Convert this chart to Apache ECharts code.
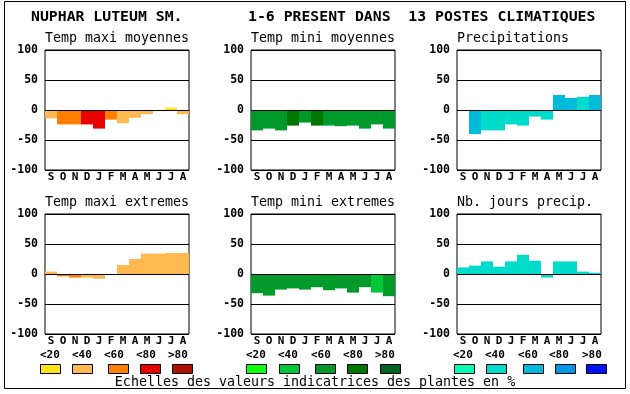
<!DOCTYPE html>
<html><head><meta charset="utf-8">
<script src="https://cdn.jsdelivr.net/npm/echarts@6/dist/echarts.min.js"></script>
<style>html,body{margin:0;padding:0;background:#fff}#c{width:630px;height:394px}</style>
</head><body><div id="c"></div>
<script>
const months = ['S','O','N','D','J','F','M','A','M','J','J','A'];
const yTicks = [-100, -50, 0, 50, 100];
const legendLabels = ['<20','<40','<60','<80','>80'];

const redPalette   = ['#FFE41A','#FFB950','#FF8000','#E80000','#B01000'];
const greenPalette = ['#10FF10','#00C838','#009A2A','#007800','#006420'];
const bluePalette  = ['#00FFB4','#00DCCC','#00BADC','#0098E8','#0010FF'];

const panelTitles = ['Temp maxi moyennes','Temp mini moyennes','Precipitations',
                     'Temp maxi extremes','Temp mini extremes','Nb. jours precip.'];

const tmaxMoy    = [-14,-24,-24,-24,-31,-16,-22,-13,-7,-2,4,-7];
const tmaxMoyCls = [1,2,2,3,3,2,1,1,1,1,0,1];
const tminMoy    = [-34,-31,-34,-26,-21,-26,-26,-27,-26,-31,-24,-31];
const tminMoyCls = [2,2,2,3,2,3,2,2,2,2,2,2];
const precip     = [0,-40,-34,-34,-24,-26,-11,-16,25,20,22,25];
const precipCls  = [1,2,1,1,1,1,1,1,2,2,1,2];
const tmaxExt    = [4,-4,-6,-6,-8,0,15,25,34,34,35,35];
const tmaxExtCls = [1,2,2,1,1,1,1,1,1,1,1,1];
const tminExt    = [-32,-36,-26,-24,-26,-22,-27,-24,-31,-22,-31,-37];
const tminExtCls = [2,2,2,2,2,2,2,2,2,2,1,2];
const nbJours    = [11,14,21,12,21,32,22,-6,21,21,4,2];
const nbJoursCls = [1,1,1,1,1,1,1,1,1,1,1,1];

const panels = [
  [tmaxMoy, tmaxMoyCls, redPalette],
  [tminMoy, tminMoyCls, greenPalette],
  [precip, precipCls, bluePalette],
  [tmaxExt, tmaxExtCls, redPalette],
  [tminExt, tminExtCls, greenPalette],
  [nbJours, nbJoursCls, bluePalette]
];

const colLeft = [45, 251, 457];
const rowTop = [50, 214];
const W = 144, H = 120;
const mono = '"DejaVu Sans Mono", "Liberation Mono", monospace';

const grids = [], xAxes = [], yAxes = [], series = [], graphics = [];
panels.forEach((p, i) => {
  const c = i % 3, r = Math.floor(i / 3);
  grids.push({left: colLeft[c], top: rowTop[r], width: W, height: H,
    show: true, borderColor: '#000', borderWidth: 1, backgroundColor: '#fff'});
  xAxes.push({type: 'category', gridIndex: i, data: months, position: 'bottom',
    axisLine: {show: false}, axisTick: {show: false},
    axisLabel: {margin: 2, color: '#000', fontFamily: mono, fontWeight: 'bold', fontSize: 11, interval: 0}});
  yAxes.push({type: 'value', gridIndex: i, min: yTicks[0], max: yTicks[yTicks.length-1], interval: 50,
    axisLine: {show: false}, axisTick: {show: false},
    splitLine: {show: true, lineStyle: {color: '#000', width: 1}},
    axisLabel: {margin: 7, color: '#000', fontFamily: mono, fontWeight: 'bold', fontSize: 11.5}});
  series.push({type: 'bar', xAxisIndex: i, yAxisIndex: i, barCategoryGap: '0%', barWidth: '100%',
    silent: true, animation: false,
    data: p[0].map((v, k) => ({value: v, itemStyle: {color: p[2][p[1][k]]}})),
    markLine: {silent: true, symbol: ['none','none'], label: {show: false},
      lineStyle: {color: '#000', width: 1, type: 'solid'}, data: [{yAxis: 0}], animation: false}});
  graphics.push({type: 'text', left: colLeft[c], top: rowTop[r] - 18,
    style: {text: panelTitles[i], font: '13.3px ' + mono, fill: '#000'}});
});

// Titles
graphics.push({type: 'text', left: 31, top: 10,
  style: {text: 'NUPHAR LUTEUM SM.', font: 'bold 14.8px ' + mono, fill: '#000'}});
graphics.push({type: 'text', left: 248, top: 10,
  style: {text: '1-6 PRESENT DANS  13 POSTES CLIMATIQUES', font: 'bold 14.8px ' + mono, fill: '#000'}});

// Outer frame
graphics.push({type: 'rect', shape: {x: 4.5, y: 1.5, width: 621, height: 387},
  style: {fill: 'none', stroke: '#000', lineWidth: 1}, z: -1});

// Legend
const legLabelX = [[40,72,104,136,168],[246,278,311,343,375],[453,485,518,549,582]];
const legBoxX = [[40,72,108,140,172],[246,279,315,347,380],[454,486,523,555,586]];
const pals = [redPalette, greenPalette, bluePalette];
for (let g = 0; g < 3; g++) {
  for (let k = 0; k < 5; k++) {
    graphics.push({type: 'text', left: legLabelX[g][k], top: 350,
      style: {text: legendLabels[k], font: 'bold 11px ' + mono, fill: '#000'}});
    graphics.push({type: 'rect', shape: {x: legBoxX[g][k] + 0.5, y: 364.5, width: 20, height: 9},
      style: {fill: pals[g][k], stroke: '#000', lineWidth: 1}});
  }
}
graphics.push({type: 'text', left: 'center', top: 376,
  style: {text: 'Echelles des valeurs indicatrices des plantes en %', font: '13.3px ' + mono, fill: '#000'}});

const chart = echarts.init(document.getElementById('c'), null, {renderer: 'canvas'});
chart.setOption({animation: false, backgroundColor: '#fff',
  grid: grids, xAxis: xAxes, yAxis: yAxes, series: series, graphic: graphics});
</script></body></html>
